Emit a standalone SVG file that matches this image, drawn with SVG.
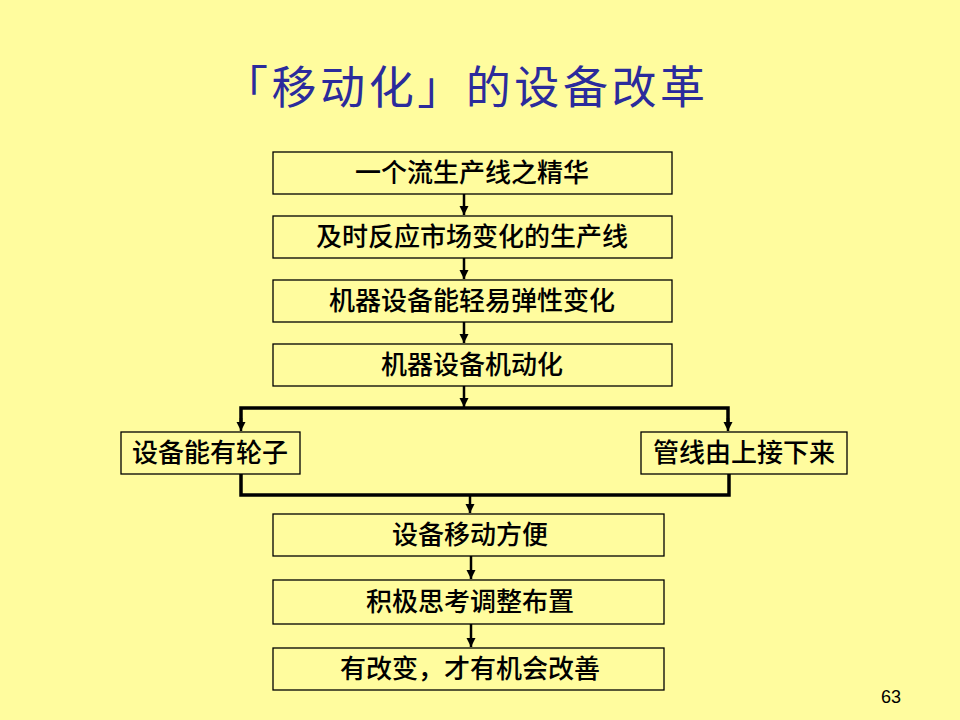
<svg xmlns="http://www.w3.org/2000/svg" width="960" height="720" viewBox="0 0 960 720">
<style>
.box{fill:#FFFC9E;stroke:#000;stroke-width:1.3}
.t{font-family:"Noto Sans CJK SC","Noto Sans",sans-serif;font-size:26px;fill:#000;text-anchor:middle;font-weight:500}
.ln{fill:none;stroke:#000;stroke-width:2.5}
.bl{fill:none;stroke:#000;stroke-width:3.5}
</style>
<defs>
<marker id="ah" markerWidth="10" markerHeight="10" refX="9" refY="5" orient="auto" markerUnits="userSpaceOnUse">
<path d="M0,0.5 L9,5 L0,9.5 Z" fill="#000"/>
</marker>
</defs>
<rect width="960" height="720" fill="#FFFC9E"/>
<text x="223" y="104" font-family="Noto Sans CJK SC,sans-serif" font-size="45" fill="#2B2B9C" textLength="482" lengthAdjust="spacing">「移动化」的设备改革</text>
<g id="connectors">
<line class="ln" x1="464" y1="194" x2="464" y2="215" marker-end="url(#ah)"/>
<line class="ln" x1="464" y1="258" x2="464" y2="279" marker-end="url(#ah)"/>
<line class="ln" x1="464" y1="322" x2="464" y2="343" marker-end="url(#ah)"/>
<line class="ln" x1="464" y1="386" x2="464" y2="407" marker-end="url(#ah)"/>
<polyline class="bl" points="241,424 241,408 728,408 728,424"/>
<line class="ln" x1="241" y1="418" x2="241" y2="431" marker-end="url(#ah)"/>
<line class="ln" x1="728" y1="418" x2="728" y2="431" marker-end="url(#ah)"/>
<polyline class="bl" points="241,474 241,495 729,495 729,474"/>
<line class="ln" x1="470" y1="495" x2="470" y2="513" marker-end="url(#ah)"/>
<line class="ln" x1="471" y1="556" x2="471" y2="579" marker-end="url(#ah)"/>
<line class="ln" x1="471" y1="624" x2="471" y2="647" marker-end="url(#ah)"/>
</g>
<g id="n1"><rect class="box" x="273" y="152" width="399" height="42"/><text class="t" x="472" y="182">一个流生产线之精华</text></g>
<g id="n2"><rect class="box" x="273" y="216" width="399" height="42"/><text class="t" x="472" y="246">及时反应市场变化的生产线</text></g>
<g id="n3"><rect class="box" x="273" y="280" width="399" height="42"/><text class="t" x="472" y="310">机器设备能轻易弹性变化</text></g>
<g id="n4"><rect class="box" x="273" y="344" width="399" height="42"/><text class="t" x="472" y="374">机器设备机动化</text></g>
<g id="n5"><rect class="box" x="121" y="432" width="179" height="42"/><text class="t" x="210" y="462">设备能有轮子</text></g>
<g id="n6"><rect class="box" x="641" y="432" width="206" height="42"/><text class="t" x="744" y="462">管线由上接下来</text></g>
<g id="n7"><rect class="box" x="273" y="514" width="391" height="42"/><text class="t" x="470" y="544">设备移动方便</text></g>
<g id="n8"><rect class="box" x="273" y="580" width="391" height="44"/><text class="t" x="470" y="611">积极思考调整布置</text></g>
<g id="n9"><rect class="box" x="273" y="648" width="391" height="42"/><text class="t" x="470" y="678">有改变，才有机会改善</text></g>
<text x="891" y="703" font-family="Liberation Sans,Arial,sans-serif" font-size="18" fill="#000" text-anchor="middle">63</text>
</svg>
